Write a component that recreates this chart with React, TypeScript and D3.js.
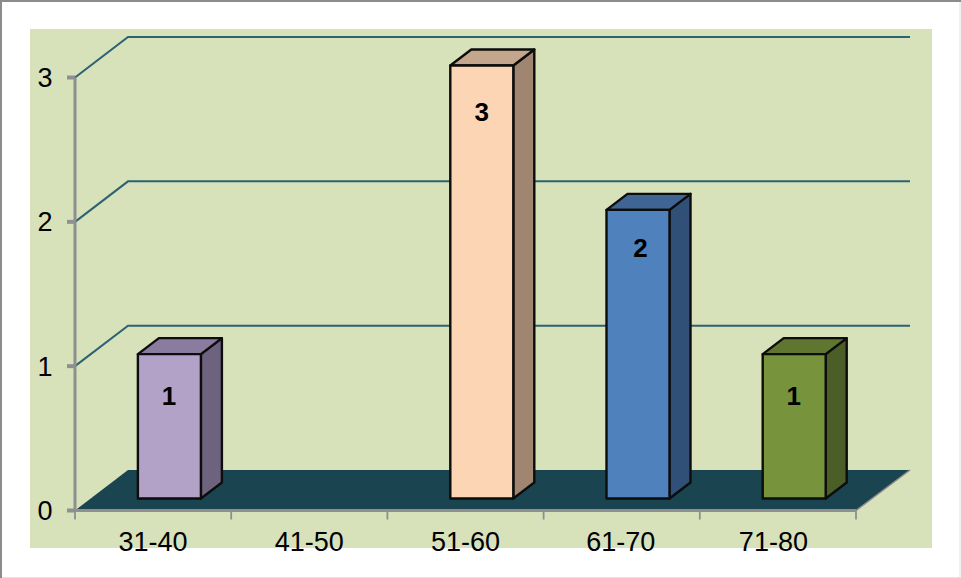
import React from "react";
import * as d3 from "d3";

const categories = ["31-40", "41-50", "51-60", "61-70", "71-80"];
const values: (number | null)[] = [1, null, 3, 2, 1];
const yTicks = [0, 1, 2, 3];
const frontColors = ["#b3a2c7", "none", "#fcd5b5", "#4f81bd", "#77933c"];
const topColors = ["#8a7ba0", "none", "#c4a68c", "#3e6594", "#5f7630"];
const sideColors = ["#6e637f", "none", "#a08671", "#315078", "#4b5e27"];
const labelDrops = { 1: 51, 2: 47, 3: 55 } as Record<number, number>;
const labelNudges = [0, 0, 0, -1, -4.5];
const valueNudges = [0, 0, 0.5, 3, 0];

const FONT = "'Liberation Sans', Arial, sans-serif";
const depth = { dx: 53, dy: -40.5 };
const barDepth = { dx: 21, dy: -16 };
const axisX0 = 75, axisX1 = 856, axisY0 = 510.5, axisY3 = 77.5;

export default function App() {
  const x = d3.scaleBand<string>().domain(categories).range([axisX0, axisX1]);
  const y = d3.scaleLinear().domain([0, 3]).range([axisY0, axisY3]);
  const barY = d3.scaleLinear().domain([0, 3]).range([498.5, 65.5]);
  const barW = 63;
  const barX = (c: string) => x(c)! + x.bandwidth() / 2 - barW / 2 + 16.3;
  const line = d3.line();
  const floor = line([
    [axisX0, axisY0],
    [axisX0 + depth.dx, axisY0 + depth.dy],
    [axisX1 + depth.dx + 1, axisY0 + depth.dy],
    [axisX1, axisY0],
  ])! + "Z";
  const tickEdges = [...categories.map((c) => x(c)!), axisX1];

  return (
    <svg width={961} height={578} style={{ position: "fixed", left: 0, top: 0 }} fontFamily={FONT}>
      <rect x={0} y={0} width={961} height={578} fill="#ffffff" />
      <rect x={1} y={0.5} width={959} height={577} fill="none" stroke="#e2e2e2" strokeWidth={1} />
      <path d="M1,578V1H961" fill="none" stroke="#8c8c8c" strokeWidth={2} />
      <rect x={30} y={29} width={902} height={519} fill="#d7e1ba" />

      {yTicks.filter((t) => t > 0).map((t) => (
        <path
          key={t}
          d={line([
            [axisX0, y(t)],
            [axisX0 + depth.dx, y(t) + depth.dy],
            [axisX1 + depth.dx + 1, y(t) + depth.dy],
          ])!}
          fill="none"
          stroke="#2c6272"
          strokeWidth={2}
        />
      ))}

      <path d={floor} fill="#1a4450" />
      <path
        d={line([[axisX1, axisY0], [axisX1 + depth.dx + 1, axisY0 + depth.dy]])!}
        stroke="#8c8c8c"
        strokeWidth={1.5}
        fill="none"
      />

      <path d={`M${axisX0},${axisY3}V${axisY0}H${axisX1}`} fill="none" stroke="#8f8f8f" strokeWidth={3} />
      {yTicks.map((t) => (
        <line key={t} x1={67} x2={axisX0} y1={y(t)} y2={y(t)} stroke="#8f8f8f" strokeWidth={4} />
      ))}
      {tickEdges.map((tx, i) => (
        <line key={i} x1={tx} x2={tx} y1={axisY0} y2={axisY0 + 9} stroke="#8f8f8f" strokeWidth={1.8} />
      ))}

      {categories.map((c, i) => {
        const v = values[i];
        if (v == null) return null;
        const l = barX(c), r = l + barW, t = barY(v), b = barY(0);
        const { dx, dy } = barDepth;
        return (
          <g key={c} stroke="#0d0d0d" strokeWidth={2.4} strokeLinejoin="round">
            <path d={line([[r, t], [r + dx, t + dy], [r + dx, b + dy], [r, b]])! + "Z"} fill={sideColors[i]} />
            <path d={line([[l, t], [l + dx, t + dy], [r + dx, t + dy], [r, t]])! + "Z"} fill={topColors[i]} />
            <rect x={l} y={t} width={barW} height={b - t} fill={frontColors[i]} />
          </g>
        );
      })}

      {categories.map((c, i) => {
        const v = values[i];
        if (v == null) return null;
        return (
          <text
            key={c}
            x={barX(c) + barW / 2 - 0.5 + valueNudges[i]}
            y={barY(v) + labelDrops[v]}
            textAnchor="middle"
            fontSize={26}
            fontWeight={700}
            fill="#000"
          >
            {v}
          </text>
        );
      })}

      {yTicks.map((t) => (
        <text key={t} x={52.5} y={y(t) + 9.5} textAnchor="end" fontSize={27} fill="#000">
          {t}
        </text>
      ))}
      {categories.map((c, i) => (
        <text
          key={c}
          x={x(c)! + x.bandwidth() / 2 + labelNudges[i]}
          y={551}
          textAnchor="middle"
          fontSize={27}
          fill="#000"
        >
          {c}
        </text>
      ))}
    </svg>
  );
}
